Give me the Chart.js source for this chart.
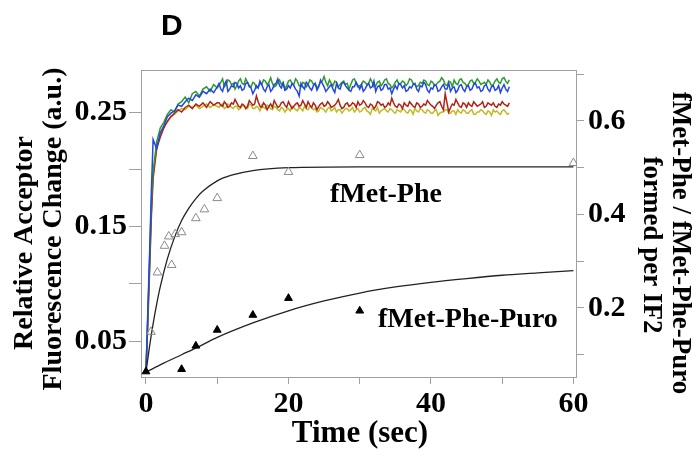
<!DOCTYPE html>
<html>
<head>
<meta charset="utf-8">
<script src="https://cdn.jsdelivr.net/npm/chart.js@4.4.1/dist/chart.umd.min.js"></script>
<style>
  body { margin: 0; background: #fff; }
</style>
</head>
<body>
<canvas id="kinetics" width="692" height="450"></canvas>
<script>
// fluorescence traces (left axis), time in sec
const traceTime = [0,0.25,0.5,0.75,1,1.5,2,2.5,3,3.5,4,4.5,5,5.5,6,6.5,7,7.5,8,8.5,9,9.5,10,
  10.25,10.5,10.75,11,11.25,11.5,11.75,12,12.25,12.5,12.75,13,13.25,13.5,13.75,14,14.25,14.5,14.75,15,
  15.25,15.5,15.75,16,16.25,16.5,16.75,17,17.25,17.5,17.75,18,18.25,18.5,18.75,19,19.25,19.5,19.75,20,
  20.25,20.5,20.75,21,21.25,21.5,21.75,22,22.25,22.5,22.75,23,23.25,23.5,23.75,24,24.25,24.5,24.75,25,
  25.25,25.5,25.75,26,26.25,26.5,26.75,27,27.25,27.5,27.75,28,28.25,28.5,28.75,29,29.25,29.5,29.75,30,
  30.25,30.5,30.75,31,31.25,31.5,31.75,32,32.25,32.5,32.75,33,33.25,33.5,33.75,34,34.25,34.5,34.75,35,
  35.25,35.5,35.75,36,36.25,36.5,36.75,37,37.25,37.5,37.75,38,38.25,38.5,38.75,39,39.25,39.5,39.75,40,
  40.25,40.5,40.75,41,41.25,41.5,41.75,42,42.25,42.5,42.75,43,43.25,43.5,43.75,44,44.25,44.5,44.75,45,
  45.25,45.5,45.75,46,46.25,46.5,46.75,47,47.25,47.5,47.75,48,48.25,48.5,48.75,49,49.25,49.5,49.75,50,
  50.25,50.5,50.75,51];

const traceBlue = [0.022,0.075,0.125,0.180,0.226,0.218,0.232,0.238,0.246,0.249,0.251,0.256,0.255,0.259,0.262,0.260,0.265,0.263,0.268,0.266,0.270,0.267,0.272,
  .275,.270,.268,.274,.277,.268,.270,.273,.272,.276,.275,.271,.273,.269,.270,.275,.276,.272,.271,.266,
  .269,.273,.271,.277,.274,.270,.268,.272,.274,.268,.270,.274,.275,.279,.273,.271,.275,.269,.270,.273,
  .271,.275,.273,.270,.268,.264,.275,.272,.270,.276,.274,.271,.269,.273,.275,.269,.272,.278,.275,.272,
  .268,.270,.272,.274,.270,.267,.275,.271,.270,.275,.276,.273,.271,.269,.268,.272,.272,.276,.273,.270,
  .274,.268,.270,.273,.275,.271,.272,.277,.268,.272,.273,.269,.270,.274,.274,.270,.271,.266,.270,.273,
  .270,.275,.274,.271,.273,.268,.269,.272,.271,.274,.275,.270,.268,.273,.272,.276,.274,.269,.267,.271,
  .270,.274,.273,.268,.269,.272,.274,.270,.270,.275,.268,.271,.272,.267,.269,.273,.274,.270,.268,.272,
  .273,.269,.270,.274,.275,.271,.272,.268,.269,.273,.274,.270,.268,.272,.273,.269,.270,.273,.267,.271,
  .274,.270,.268,.272];

const traceGreen = [0.024,0.070,0.120,0.170,0.198,0.224,0.236,0.241,0.248,0.252,0.250,0.257,0.259,0.263,0.258,0.266,0.268,0.264,0.270,0.272,0.268,0.274,0.271,
  .273,.276,.279,.272,.274,.278,.277,.274,.275,.270,.273,.277,.279,.275,.274,.279,.276,.273,.272,.276,
  .275,.271,.272,.275,.274,.278,.277,.274,.276,.280,.275,.272,.273,.276,.278,.274,.276,.270,.273,.277,
  .278,.275,.274,.279,.277,.273,.272,.276,.275,.272,.274,.278,.277,.274,.275,.271,.273,.276,.277,.281,
  .276,.273,.278,.275,.273,.277,.276,.272,.274,.276,.277,.274,.275,.270,.274,.278,.279,.275,.272,.273,
  .274,.277,.276,.274,.275,.279,.276,.272,.273,.276,.277,.273,.275,.278,.279,.275,.274,.271,.273,.276,
  .278,.274,.275,.277,.276,.273,.275,.279,.278,.275,.274,.272,.273,.276,.275,.278,.277,.274,.273,.277,
  .276,.273,.274,.276,.277,.280,.278,.274,.273,.277,.276,.272,.278,.275,.274,.278,.279,.276,.275,.273,
  .274,.277,.278,.275,.276,.279,.277,.274,.275,.276,.274,.278,.276,.273,.274,.277,.279,.276,.275,.279,
  .280,.277,.275,.278];

const traceRed = [0.023,0.065,0.110,0.158,0.192,0.218,0.228,0.236,0.242,0.246,0.249,0.252,0.250,0.254,0.256,0.253,0.257,0.255,0.258,0.254,0.259,0.256,0.258,
  .258,.256,.255,.259,.257,.254,.255,.258,.257,.261,.258,.255,.254,.257,.256,.253,.255,.260,.258,.256,
  .257,.264,.259,.255,.254,.258,.256,.252,.255,.257,.254,.260,.257,.254,.255,.258,.259,.256,.254,.259,
  .256,.253,.255,.257,.258,.255,.256,.260,.257,.254,.259,.256,.254,.258,.256,.252,.255,.257,.258,.255,
  .256,.259,.257,.254,.255,.256,.258,.261,.256,.253,.254,.257,.258,.255,.256,.258,.257,.254,.259,.256,
  .257,.260,.258,.255,.254,.257,.256,.253,.255,.259,.258,.256,.257,.254,.255,.258,.256,.262,.258,.255,
  .254,.257,.256,.253,.258,.256,.255,.259,.257,.255,.254,.258,.257,.254,.255,.257,.256,.260,.258,.256,
  .255,.253,.256,.258,.259,.255,.252,.266,.258,.250,.254,.257,.256,.261,.258,.255,.254,.258,.257,.254,
  .258,.256,.255,.259,.257,.255,.256,.257,.259,.254,.255,.258,.257,.256,.258,.255,.254,.257,.256,.259,
  .257,.256,.255,.258];

const traceYellow = [0.024,0.068,0.115,0.162,0.195,0.220,0.230,0.237,0.241,0.246,0.248,0.251,0.253,0.252,0.255,0.254,0.256,0.253,0.255,0.257,0.254,0.256,0.255,
  .254,.256,.257,.253,.254,.257,.256,.254,.253,.255,.255,.252,.253,.256,.255,.254,.253,.257,.256,.253,
  .253,.255,.254,.251,.256,.254,.253,.256,.255,.253,.252,.255,.254,.252,.251,.254,.253,.250,.252,.253,
  .251,.255,.254,.252,.251,.254,.253,.251,.255,.253,.252,.255,.254,.252,.253,.250,.251,.254,.253,.252,
  .250,.253,.254,.251,.252,.254,.250,.252,.252,.249,.251,.253,.253,.251,.252,.254,.250,.252,.253,.250,
  .251,.253,.254,.251,.250,.248,.253,.252,.251,.254,.249,.251,.252,.253,.251,.250,.253,.252,.250,.249,
  .252,.251,.250,.253,.252,.250,.249,.252,.251,.248,.253,.251,.250,.253,.252,.250,.249,.252,.251,.249,
  .249,.251,.252,.247,.249,.250,.250,.252,.252,.249,.249,.251,.251,.248,.252,.250,.249,.252,.251,.249,
  .249,.251,.252,.248,.248,.250,.250,.252,.251,.249,.248,.251,.250,.247,.252,.250,.251,.249,.248,.251,
  .252,.250,.248,.249];

// dipeptide formed per IF2 (right axis)
const pheTime  = [0.7, 1.6, 2.6, 3.2, 3.6, 4.1, 5, 7, 8.2, 10, 15, 20, 30, 60];
const pheYield = [0.149, 0.276, 0.333, 0.353, 0.292, 0.358, 0.362, 0.392, 0.411, 0.435, 0.525, 0.491, 0.527, 0.510];
const puroTime  = [0, 5, 7, 10, 15, 20, 30];
const puroYield = [0.064, 0.069, 0.119, 0.153, 0.185, 0.221, 0.194];

// fitted curves
const pheFitTime  = [0, 0.5, 1, 1.5, 2, 3, 4, 5, 6, 7, 8, 10, 12, 15, 20, 30, 45, 60];
const pheFitYield = [0.063, 0.118, 0.166, 0.208, 0.245, 0.305, 0.351, 0.387, 0.413, 0.434, 0.450, 0.472, 0.484, 0.494, 0.500, 0.502, 0.502, 0.502];
const puroFitTime  = [0, 2.5, 5, 7.5, 10, 15, 20, 25, 30, 35, 40, 45, 50, 55, 60];
const puroFitYield = [0.063, 0.082, 0.100, 0.118, 0.137, 0.168, 0.194, 0.215, 0.232, 0.245, 0.255, 0.263, 0.270, 0.275, 0.280];

const xTicks = [0, 10, 20, 30, 40, 50, 60];
const xLabels = [0, 20, 40, 60];
const leftTicks = [0.05, 0.1, 0.15, 0.2, 0.25];
const leftLabels = [0.05, 0.15, 0.25];
const rightTicks = [0.1, 0.2, 0.3, 0.4, 0.5, 0.6, 0.7];
const rightLabels = [0.2, 0.4, 0.6];

const pts = (xs, ys) => xs.map((x, i) => ({ x: x, y: ys[i] }));
const serif = 'Liberation Serif, Times New Roman, serif';
const tickFont = { family: serif, size: 30, weight: 'bold' };

function trace(data, color) {
  return { data: pts(traceTime, data), yAxisID: 'y', showLine: true, pointRadius: 0,
           borderColor: color, borderWidth: 1.5, tension: 0 };
}

const frame = {
  id: 'frame',
  beforeDatasetsDraw(chart) {
    const a = chart.chartArea, ctx = chart.ctx;
    ctx.save();
    ctx.strokeStyle = '#a0a0a0';
    ctx.lineWidth = 1;
    ctx.strokeRect(a.left + 0.5, a.top + 0.5, a.right - a.left - 1, a.bottom - a.top);
    ctx.restore();
  }
};

const labels = {
  id: 'labels',
  afterDraw(chart) {
    const ctx = chart.ctx;
    ctx.save();
    ctx.fillStyle = '#000';
    ctx.font = 'bold 30px Liberation Sans, Arial, sans-serif';
    ctx.fillText('D', 161, 35);

    ctx.font = 'bold 28px ' + serif;
    ctx.fillText('fMet-Phe', 330, 202);
    ctx.fillText('fMet-Phe-Puro', 378, 327);

    ctx.font = 'bold 31px ' + serif;
    ctx.textAlign = 'center';
    ctx.fillText('Time (sec)', 360, 442);

    ctx.font = 'bold 28px ' + serif;
    ctx.textBaseline = 'middle';
    const side = (txt, x, y, ang) => {
      ctx.save();
      ctx.translate(x, y);
      ctx.rotate(ang);
      ctx.fillText(txt, 0, 0);
      ctx.restore();
    };
    side('Relative Acceptor', 25, 243, -Math.PI / 2);
    side('Fluorescence Change (a.u.)', 54, 229, -Math.PI / 2);
    ctx.font = 'bold 27px ' + serif;
    side('fMet-Phe / fMet-Phe-Puro', 680, 243, Math.PI / 2);
    side('formed per IF2', 651, 245, Math.PI / 2);
    ctx.restore();
  }
};

new Chart(document.getElementById('kinetics').getContext('2d'), {
  type: 'scatter',
  data: {
    datasets: [
      { data: pts(pheTime, pheYield), yAxisID: 'yR', pointStyle: 'triangle', pointRadius: 5,
        backgroundColor: 'rgba(255,255,255,0)', borderColor: '#8a8a8a', pointBorderWidth: 1 },
      { data: pts(puroTime, puroYield), yAxisID: 'yR', pointStyle: 'triangle', pointRadius: 4.5,
        backgroundColor: '#000', borderColor: '#000', pointBorderWidth: 1 },
      { data: pts(pheFitTime, pheFitYield), yAxisID: 'yR', showLine: true, pointRadius: 0,
        borderColor: '#222', borderWidth: 1.3, cubicInterpolationMode: 'monotone' },
      { data: pts(puroFitTime, puroFitYield), yAxisID: 'yR', showLine: true, pointRadius: 0,
        borderColor: '#222', borderWidth: 1.3, cubicInterpolationMode: 'monotone' },
      trace(traceBlue, 'rgb(35, 70, 225)'),
      trace(traceGreen, 'rgb(45, 155, 45)'),
      trace(traceRed, 'rgb(175, 35, 20)'),
      trace(traceYellow, 'rgb(195, 185, 40)')
    ]
  },
  options: {
    responsive: false,
    animation: false,
    layout: { padding: { top: 70, left: 0, right: 0, bottom: 0 } },
    plugins: { legend: { display: false }, tooltip: { enabled: false } },
    scales: {
      x: {
        type: 'linear', min: -0.7, max: 60.5,
        afterBuildTicks: s => { s.ticks = xTicks.map(v => ({ value: v })); },
        afterFit: s => { s.height = 73; },
        border: { display: false },
        grid: { drawOnChartArea: false, tickLength: 7, color: '#a0a0a0' },
        ticks: { color: '#000', font: tickFont, padding: 2, maxRotation: 0, autoSkip: false,
                 callback: v => xLabels.includes(v) ? String(v) : '' }
      },
      y: {
        position: 'left', min: 0.0186, max: 0.2867,
        afterBuildTicks: s => { s.ticks = leftTicks.map(v => ({ value: v })); },
        afterFit: s => { s.width = 141; },
        border: { display: false },
        grid: { drawOnChartArea: false, tickLength: 12, color: '#a0a0a0' },
        ticks: { color: '#000', font: tickFont, padding: 2, autoSkip: false,
                 callback: v => leftLabels.includes(v) ? v.toFixed(2) : '' }
      },
      yR: {
        position: 'right', min: 0.0524, max: 0.709,
        afterBuildTicks: s => { s.ticks = rightTicks.map(v => ({ value: v })); },
        afterFit: s => { s.width = 115; },
        border: { display: false },
        grid: { drawOnChartArea: false, tickLength: 7, color: '#a0a0a0' },
        ticks: { color: '#000', font: tickFont, padding: 4, autoSkip: false,
                 callback: v => rightLabels.includes(v) ? v.toFixed(1) : '' }
      }
    }
  },
  plugins: [frame, labels]
});
</script>
</body>
</html>
